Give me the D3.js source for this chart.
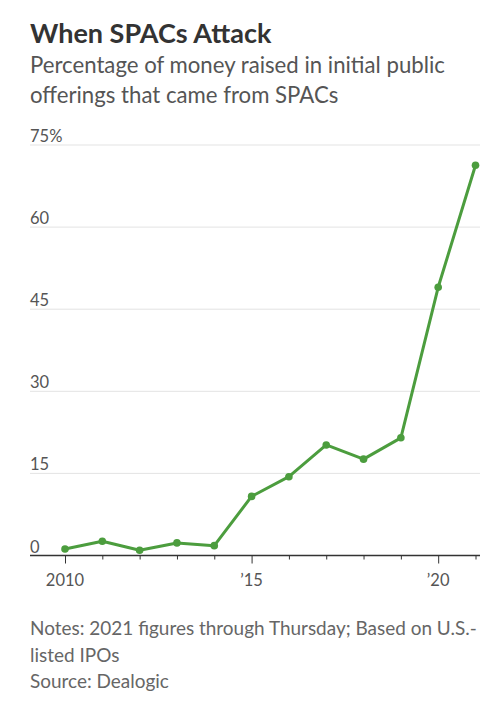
<!DOCTYPE html>
<html><head><meta charset="utf-8">
<script src="https://cdn.jsdelivr.net/npm/d3@7"></script>
<style>
body{margin:0;background:#fff;}
svg text{font-family:Lato,"Noto Sans",sans-serif;}
</style></head>
<body>
<svg id="c" width="499" height="712"></svg>
<script>
const years = [2010,2011,2012,2013,2014,2015,2016,2017,2018,2019,2020,2021];
const share = [1.2,2.6,0.95,2.3,1.8,10.8,14.4,20.2,17.6,21.5,49.0,71.3];
const yTicks = [0,15,30,45,60,75];
const xMajor = [2010,2015,2020];
const xLabels = ["2010","’15","’20"];
const subtitle = ["Percentage of money raised in initial public","offerings that came from SPACs"];
const notes = ["Notes: 2021 figures through Thursday; Based on U.S.-","listed IPOs","Source: Dealogic"];

const svg = d3.select("#c");
const x = d3.scaleLinear().domain([2010,2021]).range([65,475.5]);
const y = d3.scaleLinear().domain([0,75]).range([555.5,145]);
const L = 30, R = 480;

function fit(sel, target){
  const w = sel.nodes()[0].getComputedTextLength();
  const fs = parseFloat(sel.attr("font-size"));
  sel.attr("font-size", fs*target/w);
}

svg.append("text").attr("x",30).attr("y",43).attr("font-size",27).attr("font-weight",700).attr("fill","#333").text("When SPACs Attack");
const st = svg.selectAll("text.st").data(subtitle).join("text").attr("class","st")
  .attr("x",30).attr("y",(d,i)=>73+i*29.5).attr("font-size",21).attr("font-weight",400).attr("fill","#555").text(d=>d);
fit(st,415);

const g = svg.append("g");
g.selectAll("line.grid").data(yTicks.filter(d=>d>0)).join("line")
  .attr("x1",L).attr("x2",R).attr("y1",d=>y(d)).attr("y2",d=>y(d))
  .attr("stroke","#e3e3e3").attr("stroke-width",1);
g.selectAll("text.yl").data(yTicks).join("text")
  .attr("x",L).attr("y",d=>y(d)-3).attr("font-size",16.5).attr("font-weight",400).attr("fill","#555")
  .text(d=>d===75?"75%":d);

const xAxis = d3.axisBottom(x).tickValues(years).tickSize(4).tickFormat("");
const ax = svg.append("g").attr("transform",`translate(0,${y(0)})`).call(xAxis);
ax.select(".domain").remove();
ax.selectAll(".tick line").attr("stroke","#333").attr("y2",d=>xMajor.includes(d)?8:4);
svg.append("line").attr("x1",L).attr("x2",R).attr("y1",y(0)).attr("y2",y(0)).attr("stroke","#333").attr("stroke-width",1.5);
svg.selectAll("text.xl").data(xMajor).join("text")
  .attr("x",d=>x(d)).attr("y",586).attr("text-anchor","middle").attr("font-size",16.5).attr("font-weight",400).attr("fill","#555")
  .text((d,i)=>xLabels[i]);

const data = years.map((yr,i)=>({yr,v:share[i]}));
svg.append("path").datum(data).attr("fill","none").attr("stroke","#4c9d3e").attr("stroke-width",3).attr("stroke-linejoin","round")
  .attr("d",d3.line().x(d=>x(d.yr)).y(d=>y(d.v)));
svg.selectAll("circle").data(data).join("circle").attr("cx",d=>x(d.yr)).attr("cy",d=>y(d.v)).attr("r",3.8).attr("fill","#4c9d3e");

const nt = svg.selectAll("text.n").data(notes).join("text").attr("class","n").attr("x",30).attr("y",(d,i)=>635+i*26.5)
  .attr("font-size",17).attr("font-weight",400).attr("fill","#666").text(d=>d);
fit(nt,447);
</script>
</body></html>
